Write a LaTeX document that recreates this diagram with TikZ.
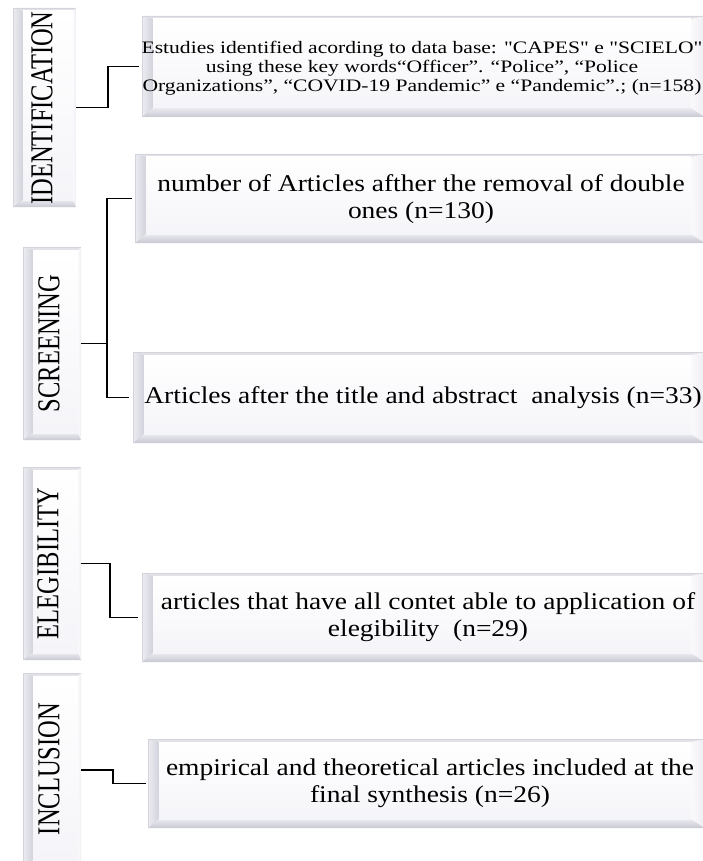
\documentclass[tikz,border=0pt]{standalone}
\usepackage{fontspec}
\setmainfont{Liberation Serif}
\newfontfamily\rawserif{Liberation Serif}[Ligatures=TeXOff]
\newcommand\sq{{\rawserif"}}
\usetikzlibrary{calc}

\definecolor{bevout}{RGB}{214,214,222}
\definecolor{bevline}{RGB}{212,212,220}
\definecolor{bevtop}{RGB}{226,226,232}
\definecolor{bevleftA}{RGB}{236,236,242}
\definecolor{bevleftB}{RGB}{210,210,220}
\definecolor{bevbotA}{RGB}{234,234,240}
\definecolor{bevbotB}{RGB}{200,200,210}
\definecolor{bevrightA}{RGB}{250,250,252}
\definecolor{bevrightB}{RGB}{238,238,243}
\definecolor{bevface}{RGB}{245,245,249}

\tikzset{
  bevel/.style n args={4}{%
    rectangle, inner sep=0pt, outer sep=0pt, fill=bevout,
    path picture={
      \coordinate (pNW) at (path picture bounding box.north west);
      \coordinate (pNE) at (path picture bounding box.north east);
      \coordinate (pSW) at (path picture bounding box.south west);
      \coordinate (pSE) at (path picture bounding box.south east);
      \coordinate (iNW) at ($(pNW)+(#1pt,-#2pt)$);
      \coordinate (iNE) at ($(pNE)+(-#3pt,-#2pt)$);
      \coordinate (iSW) at ($(pSW)+(#1pt,#4pt)$);
      \coordinate (iSE) at ($(pSE)+(-#3pt,#4pt)$);
      \fill[bevtop] (pNW) -- (pNE) -- (iNE) -- (iNW) -- cycle;
      \shade[left color=bevleftA, right color=bevleftB] (pNW) -- (iNW) -- (iSW) -- (pSW) -- cycle;
      \shade[top color=bevbotA, bottom color=bevbotB] (pSW) -- (iSW) -- (iSE) -- (pSE) -- cycle;
      \shade[left color=bevrightA, right color=bevrightB] (pNE) -- (iNE) -- (iSE) -- (pSE) -- cycle;
      \shade[top color=white, bottom color=bevface] (iNW) rectangle (iSE);
      \draw[bevline, line width=0.8pt] (pNW) -- (pNE) (pNW) -- (pSW);
    }
  },
  barbox/.style={bevel={10}{3}{3}{7}},
  stepbox/.style={bevel={11}{3}{14}{9}},
  lab/.style={rotate=90, inner sep=0pt, font=\fontsize{24.5}{28}\selectfont},
  txt/.style={inner sep=0pt},
  conn/.style={draw=black, line width=1.8pt}
}

\begin{document}
\begin{tikzpicture}[x=1pt,y=-1pt]
\useasboundingbox (0,0) rectangle (703,861);
\clip (0,0) rectangle (703,861);
\fill[white] (0,0) rectangle (703,861);

% stage bars
\node[barbox, minimum width=63pt, minimum height=199pt] (idbar) at (44.5,107.5) {};
\node[barbox, minimum width=58pt, minimum height=193pt] (scbar) at (52,343.5) {};
\node[barbox, minimum width=58pt, minimum height=193pt] (elbar) at (52,563.5) {};
\node[barbox, minimum width=58pt, minimum height=194pt] (inbar) at (52,770) {};

\node[lab] (l1) at (42,108) {\scalebox{1}[1.3]{IDENTIFICATION}};
\node[lab] (l2) at (49,343.5) {\scalebox{1}[1.3]{SCREENING}};
\node[lab] (l3) at (48,563.5) {\scalebox{1}[1.3]{ELEGIBILITY}};
\node[lab] (l4) at (49,769) {\scalebox{1}[1.3]{INCLUSION}};

% step boxes
\node[stepbox, minimum width=563pt, minimum height=101pt] (box1) at (423.5,66.5) {};
\node[stepbox, minimum width=570pt, minimum height=89pt] (box2) at (420,198.5) {};
\node[stepbox, minimum width=572pt, minimum height=91pt] (box3) at (419,397.5) {};
\node[stepbox, minimum width=563pt, minimum height=89pt] (box4) at (423.5,617.5) {};
\node[stepbox, minimum width=557pt, minimum height=89pt] (box5) at (426.5,783.5) {};

\node[txt] (t1) at (422,69) {\scalebox{1.233}[1]{\fontsize{17.5}{19}\selectfont\begin{tabular}{@{}c@{}}Estudies identified acording to data base: \sq CAPES\sq{} e \sq SCIELO\sq\\ using these key words“Officer”. “Police”, “Police\\ Organizations”, “COVID-19 Pandemic” e “Pandemic”.; (n=158)\end{tabular}}};
\node[txt] (t2) at (421,200) {\scalebox{1.145}[1]{\fontsize{24}{27}\selectfont\begin{tabular}{@{}c@{}}number of Articles afther the removal of double\\ ones (n=130)\end{tabular}}};
\node[txt] (t3) at (423,398) {\scalebox{1.145}[1]{\fontsize{24}{27}\selectfont Articles after the title and abstract\ \ analysis (n=33)}};
\node[txt] (t4) at (428,618) {\scalebox{1.145}[1]{\fontsize{24}{27}\selectfont\begin{tabular}{@{}c@{}}articles that have all contet able to application of\\ elegibility\ \ (n=29)\end{tabular}}};
\node[txt] (t5) at (430,784) {\scalebox{1.145}[1]{\fontsize{24}{27}\selectfont\begin{tabular}{@{}c@{}}empirical and theoretical articles included at the\\ final synthesis (n=26)\end{tabular}}};

% junction columns
\coordinate (jI) at (108,0);
\coordinate (jS) at (107,0);
\coordinate (jE) at (110,0);
\coordinate (jN) at (113,0);

% connectors
\draw[conn, shorten >=3pt] (idbar.east) -- (idbar.east -| jI) |- (box1.west);
\draw[conn] (scbar.east) -- (scbar.east -| jS);
\draw[conn, shorten <=3pt, shorten >=4pt] (box2.west) -- (box2.west -| jS) -- (box3.west -| jS) -- (box3.west);
\draw[conn, shorten >=4pt] (elbar.east) -- (elbar.east -| jE) |- (box4.west);
\draw[conn, shorten >=2pt] (inbar.east) -- (inbar.east -| jN) |- (box5.west);
\end{tikzpicture}
\end{document}
